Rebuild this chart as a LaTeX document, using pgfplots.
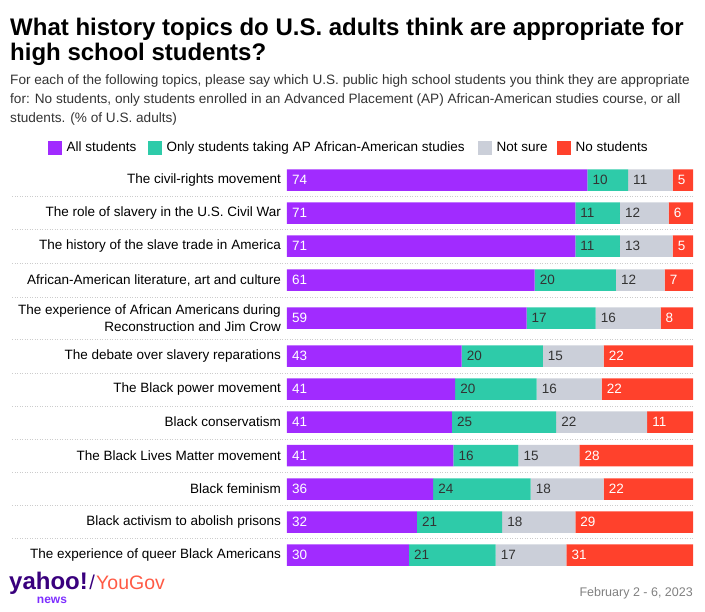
\documentclass[border=0pt]{standalone}
\usepackage{fontspec}
\setmainfont{Liberation Sans}
\usepackage{pgfplots}
\pgfplotsset{compat=1.18}
\usepackage{pgfplotstable}

\definecolor{cAll}{HTML}{A12BFF}
\definecolor{cAP}{HTML}{2ECBA9}
\definecolor{cNS}{HTML}{CBCFD9}
\definecolor{cNo}{HTML}{FF412C}
\definecolor{txt}{HTML}{333333}
\definecolor{sep}{HTML}{CCCCCC}
\definecolor{yahoo}{HTML}{39007D}
\definecolor{news}{HTML}{7D2EFF}
\definecolor{yougov}{HTML}{FF5A45}

% rounded labels (all, ap, ns, no) and bar widths (wall ... wno)
\pgfplotstableread{
y all ap ns no wall wap wns wno
180 74 10 11 5 74 10 11 5
213 71 11 12 6 71 11 12 6
246 71 11 13 5 71 11 13 5
280 61 20 12 7 61 20 12 7
318 59 17 16 8 59 17 16 8
356 43 20 15 22 43 20 15 22
389 41 20 16 22 41.4 20.1 16.0 22.5
422 41 25 22 11 40.6 25.7 22.4 11.3
455.5 41 16 15 28 41 16 15 28
489 36 24 18 22 36 24 18 22
522 32 21 18 29 32 21 18 29
555 30 21 17 31 30.0 21.4 17.4 31.2
}\datatable

\pgfplotsset{base/.style={scale only axis, width=406pt, height=410pt,
  xmin=0, xmax=100, ymin=160, ymax=570, y dir=reverse,
  at={(287pt,-160pt)}, anchor=north west, clip=false},
  lbl/.style={only marks, mark=*, mark size=0pt, mark options={draw=none, fill=none}}}

\newcommand{\lblfont}{\fontsize{13.5}{17}\selectfont}

\begin{document}
\begin{tikzpicture}
\path[use as bounding box] (0,0) rectangle (705pt,-612pt);

% title
\node[anchor=base west, inner sep=0pt, font=\fontsize{24}{28}\selectfont\bfseries] at (10pt,-36pt) {What history topics do U.S. adults think are appropriate for};
\node[anchor=base west, inner sep=0pt, font=\fontsize{24}{28}\selectfont\bfseries] at (10pt,-61pt) {high school students?};
% subtitle
\node[anchor=base west, inner sep=0pt, font=\fontsize{13.6}{16}\selectfont, text=txt] at (10pt,-85pt) {For each of the following topics, please say which U.S. public high school students you think they are appropriate};
\node[anchor=base west, inner sep=0pt, font=\fontsize{13.6}{16}\selectfont, text=txt] at (10pt,-104pt) {for: No students, only students enrolled in an Advanced Placement (AP) African-American studies course, or all};
\node[anchor=base west, inner sep=0pt, font=\fontsize{13.6}{16}\selectfont, text=txt] at (10pt,-123pt) {students. (\% of U.S. adults)};

% legend
\fill[cAll] (48pt,-141pt) rectangle (62pt,-155pt);
\node[anchor=base west, inner sep=0pt, font=\lblfont] at (66.5pt,-152pt) {All students};
\fill[cAP] (148pt,-141pt) rectangle (162pt,-155pt);
\node[anchor=base west, inner sep=0pt, font=\lblfont] at (166.5pt,-152pt) {Only students taking AP African-American studies};
\fill[cNS] (478pt,-141pt) rectangle (492pt,-155pt);
\node[anchor=base west, inner sep=0pt, font=\lblfont] at (496.5pt,-152pt) {Not sure};
\fill[cNo] (557pt,-141pt) rectangle (571pt,-155pt);
\node[anchor=base west, inner sep=0pt, font=\lblfont] at (575.5pt,-152pt) {No students};

% separators
\foreach \yy in {196,229,263,297,339,373,406,439,472,505,538}
  \draw[sep, line width=0.8pt, dash pattern=on 1pt off 1.5pt] (12pt,-\yy pt) -- (693pt,-\yy pt);

\begin{axis}[base, xbar stacked, bar width=21.5pt,
  axis line style={draw=none}, xtick=\empty, major tick length=0pt,
  ytick={180,213,246,280,318,356,389,422,455.5,489,522,555},
  yticklabels={The civil-rights movement, The role of slavery in the U.S. Civil War, The history of the slave trade in America, {African-American literature, art and culture}, {The experience of African Americans during\\Reconstruction and Jim Crow}, The debate over slavery reparations, The Black power movement, Black conservatism, The Black Lives Matter movement, Black feminism, Black activism to abolish prisons, The experience of queer Black Americans},
  yticklabel style={font=\lblfont, align=right, inner sep=0pt, xshift=-6pt, text=black}]
\addplot[fill=cAll, draw=none] table[x=wall, y=y]{\datatable};
\addplot[fill=cAP, draw=none] table[x=wap, y=y]{\datatable};
\addplot[fill=cNS, draw=none] table[x=wns, y=y]{\datatable};
\addplot[fill=cNo, draw=none] table[x=wno, y=y]{\datatable};
\end{axis}

\begin{axis}[base, hide axis, nodes near coords, point meta=explicit symbolic,
  nodes near coords align=horizontal,
  every node near coord/.append style={anchor=west, inner sep=0pt, xshift=5pt, font=\lblfont}]
\addplot[lbl, every node near coord/.append style={text=white}] table[x expr=0, y=y, meta=all]{\datatable};
\addplot[lbl, every node near coord/.append style={text=txt}] table[x=wall, y=y, meta=ap]{\datatable};
\addplot[lbl, every node near coord/.append style={text=txt}] table[x expr=\thisrow{wall}+\thisrow{wap}, y=y, meta=ns]{\datatable};
\addplot[lbl, every node near coord/.append style={text=white}] table[x expr=\thisrow{wall}+\thisrow{wap}+\thisrow{wns}, y=y, meta=no]{\datatable};
\end{axis}

% footer
\node[anchor=base west, inner sep=0pt, font=\fontsize{24}{26}\selectfont\bfseries, text=yahoo] (yh) at (9pt,-590pt) {yahoo!};
\node[anchor=base, inner sep=0pt, font=\fontsize{12}{14}\selectfont\bfseries, text=news] at (52pt,-603pt) {news};
\node[anchor=base west, inner sep=0pt, font=\fontsize{20}{24}\selectfont, text=yahoo] (sl) at ([xshift=1pt]yh.base east) {/};
\node[anchor=base west, inner sep=0pt, font=\fontsize{19.5}{24}\selectfont, text=yougov] at ([xshift=1pt]sl.base east) {YouGov};
\node[anchor=base east, inner sep=0pt, font=\fontsize{12.5}{15}\selectfont, text=gray] at (693pt,-596pt) {February 2 - 6, 2023};
\end{tikzpicture}
\end{document}
